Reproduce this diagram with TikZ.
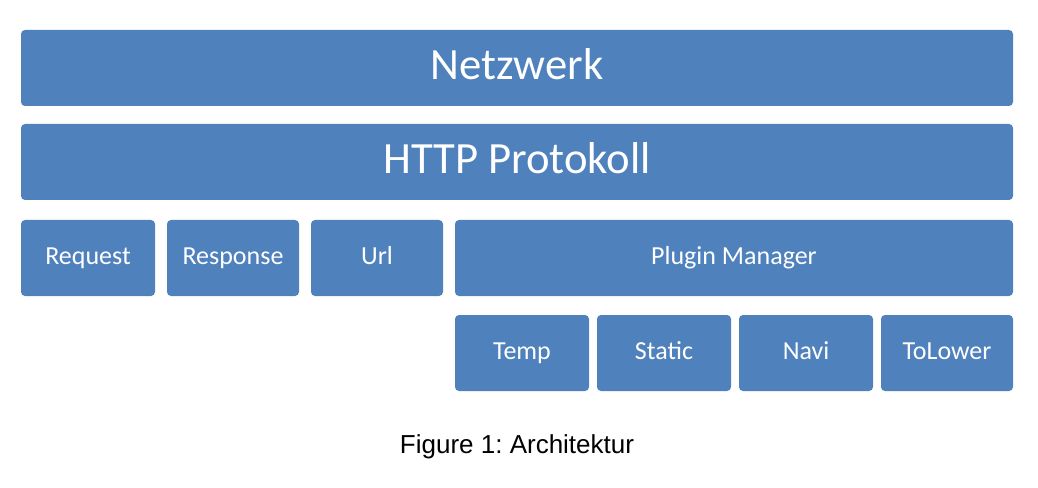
\documentclass[tikz,border=0pt]{standalone}
\usepackage{fontspec}
\setmainfont{Carlito}
\newfontfamily\captionfont{Liberation Sans}
\usepackage{tikz}
\definecolor{layerblue}{HTML}{4F81BD}
\tikzset{layer/.style 2 args={draw=none, fill=layerblue, rounded corners=3pt, text=white, anchor=north west, inner sep=0pt, outer sep=0pt, minimum width=#1*0.75pt, minimum height=#2*0.75pt}, big label/.style={font=\fontsize{33.5}{36}\selectfont, text height=21.6pt, text depth=3.6pt}, small label/.style={font=\fontsize{19.5}{22}\selectfont, text height=12.6pt, text depth=2.8pt}}

\begin{document}
\frenchspacing
\begin{tikzpicture}[x=0.75pt,y=-0.75pt]
\useasboundingbox (0,0) rectangle (1038,488);
\node[layer={992}{76}, big label] (netzwerk) at (21,30) {Netzwerk};
\node[layer={992}{76}, big label] (http) at (21,124) {HTTP Protokoll};
\node[layer={134}{76}, small label] (request) at (21,220) {Request};
\node[layer={132}{76}, small label] (response) at (167,220) {Response};
\node[layer={132}{76}, small label] (url) at (311,220) {Url};
\node[layer={558}{76}, small label] (plugins) at (455,220) {Plugin Manager};
\node[layer={134}{76}, small label] (temp) at (455,315) {Temp};
\node[layer={134}{76}, small label] (static) at (597,315) {Static};
\node[layer={134}{76}, small label] (navi) at (739,315) {Navi};
\node[layer={132}{76}, small label] (tolower) at (881,315) {ToLower};
\node[anchor=base, inner sep=0pt, font=\captionfont\fontsize{19.5}{22}\selectfont] (caption) at (517,453.5) {Figure 1: Architektur};
\end{tikzpicture}
\end{document}
